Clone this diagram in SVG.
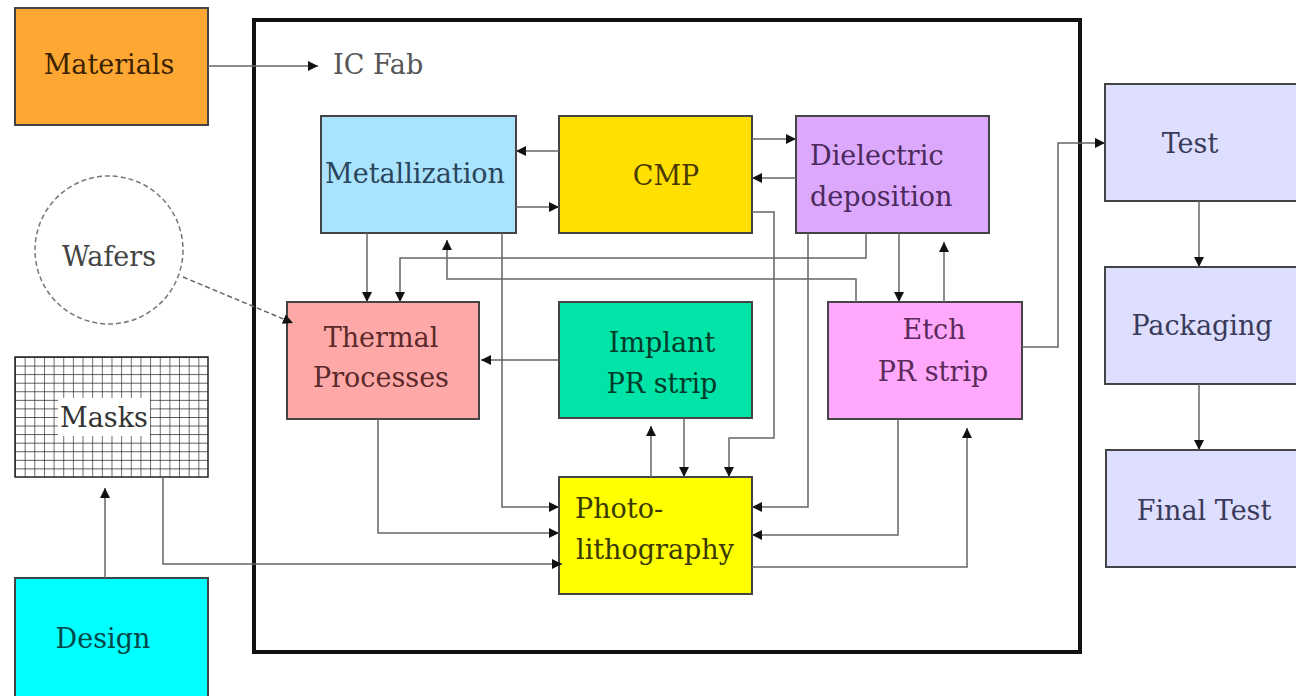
<svg xmlns="http://www.w3.org/2000/svg" width="1296" height="696" viewBox="0 0 1296 696">
<style>
.box{stroke:#444;stroke-width:2}
.t{font-family:'DejaVu Serif','Liberation Serif',serif;font-size:27px}
.c{fill:none;stroke:#666;stroke-width:1.5;marker-end:url(#ah)}
.m{text-anchor:middle}
</style>
<defs>
<marker id="ah" markerUnits="userSpaceOnUse" markerWidth="11" markerHeight="10" refX="10" refY="5" orient="auto">
<path d="M0,0 L10,5 L0,10 z" fill="#111"/>
</marker>
<pattern id="grid" patternUnits="userSpaceOnUse" x="15" y="357" width="9.65" height="8.57">
<rect width="9.65" height="8.57" fill="#fff"/>
<path d="M0,0 V8.57 M0,0 H9.65" stroke="#222" stroke-width="1.3" fill="none"/>
</pattern>
</defs>
<rect width="1296" height="696" fill="#fff"/>

<g id="icfab">
<rect x="254" y="20" width="826" height="632" fill="none" stroke="#111" stroke-width="4"/>
<text class="t" x="333" y="74" fill="#555" font-size="26">IC Fab</text>
</g>

<g id="materials">
<rect class="box" x="15" y="8" width="193" height="117" fill="#ffa733"/>
<text class="t m" x="109" y="74" fill="#3a2200">Materials</text>
</g>

<g id="wafers">
<circle cx="109" cy="250" r="74" fill="#fff" stroke="#777" stroke-width="1.5" stroke-dasharray="5,3"/>
<text class="t m" x="109" y="266" fill="#444">Wafers</text>
</g>

<g id="masks">
<rect x="15" y="357" width="193" height="120" fill="url(#grid)" stroke="#222" stroke-width="1.5"/>
<rect x="58" y="398" width="92" height="38" fill="#fff"/>
<text class="t m" x="104" y="427" fill="#333">Masks</text>
</g>

<g id="design">
<rect class="box" x="15" y="578" width="193" height="125" fill="#00ffff"/>
<text class="t m" x="103" y="648" fill="#004848">Design</text>
</g>

<g id="metallization">
<rect class="box" x="321" y="116" width="195" height="117" fill="#aae3fd"/>
<text class="t m" x="415" y="183" fill="#2a465c">Metallization</text>
</g>

<g id="cmp">
<rect class="box" x="559" y="116" width="193" height="117" fill="#ffe000"/>
<text class="t m" x="666" y="185" fill="#4a3a00">CMP</text>
</g>

<g id="dielectric">
<rect class="box" x="796" y="116" width="193" height="117" fill="#dca8fc"/>
<text class="t" x="810" y="165" fill="#4a2a5c">Dielectric</text>
<text class="t" x="810" y="206" fill="#4a2a5c">deposition</text>
</g>

<g id="thermal">
<rect class="box" x="287" y="302" width="192" height="117" fill="#ffa8a8"/>
<text class="t m" x="381" y="347" fill="#5a2a2a">Thermal</text>
<text class="t m" x="381" y="387" fill="#5a2a2a">Processes</text>
</g>

<g id="implant">
<rect class="box" x="559" y="302" width="193" height="116" fill="#00e4a8"/>
<text class="t m" x="662" y="352" fill="#003a28">Implant</text>
<text class="t m" x="662" y="393" fill="#003a28">PR strip</text>
</g>

<g id="etch">
<rect class="box" x="828" y="302" width="194" height="117" fill="#ffa8fc"/>
<text class="t m" x="934" y="339" fill="#5a2a5a">Etch</text>
<text class="t m" x="933" y="381" fill="#5a2a5a">PR strip</text>
</g>

<g id="photo">
<rect class="box" x="559" y="477" width="193" height="117" fill="#ffff00"/>
<text class="t" x="575" y="518" fill="#3a3a00">Photo-</text>
<text class="t" x="576" y="559" fill="#3a3a00">lithography</text>
</g>

<g id="test">
<rect class="box" x="1105" y="84" width="200" height="117" fill="#dedefe"/>
<text class="t m" x="1190" y="153" fill="#3a3a5a">Test</text>
</g>

<g id="packaging">
<rect class="box" x="1105" y="267" width="200" height="117" fill="#dedefe"/>
<text class="t m" x="1202" y="335" fill="#3a3a5a">Packaging</text>
</g>

<g id="finaltest">
<rect class="box" x="1106" y="450" width="200" height="117" fill="#dedefe"/>
<text class="t m" x="1204" y="520" fill="#3a3a5a">Final Test</text>
</g>

<g id="connectors">
<path class="c" d="M208,66 H318"/>
<path class="c" d="M559,151 H516"/>
<path class="c" d="M516,207 H559"/>
<path class="c" d="M752,139 H796"/>
<path class="c" d="M796,178 H752"/>
<path class="c" d="M367,233 V302"/>
<path class="c" d="M866,233 V258 H400 V302"/>
<path class="c" d="M856,302 V279 H447 V240"/>
<path class="c" d="M502,233 V507 H559"/>
<path class="c" d="M752,212 H774 V438 H729 V477"/>
<path class="c" d="M684,418 V477"/>
<path class="c" d="M651,477 V426"/>
<path class="c" d="M559,360 H481"/>
<path class="c" d="M808,233 V507 H752"/>
<path class="c" d="M898,419 V535 H752"/>
<path class="c" d="M752,567 H967 V428"/>
<path class="c" d="M378,419 V533 H559"/>
<path class="c" d="M163,477 V564 H562"/>
<path class="c" d="M105,578 V488"/>
<path class="c" d="M183,277 L293,323" stroke-dasharray="5,3"/>
<path class="c" d="M899,233 V302"/>
<path class="c" d="M944,302 V242"/>
<path class="c" d="M1022,347 H1058 V143 H1105"/>
<path class="c" d="M1199,201 V267"/>
<path class="c" d="M1199,384 V450"/>
</g>
</svg>
